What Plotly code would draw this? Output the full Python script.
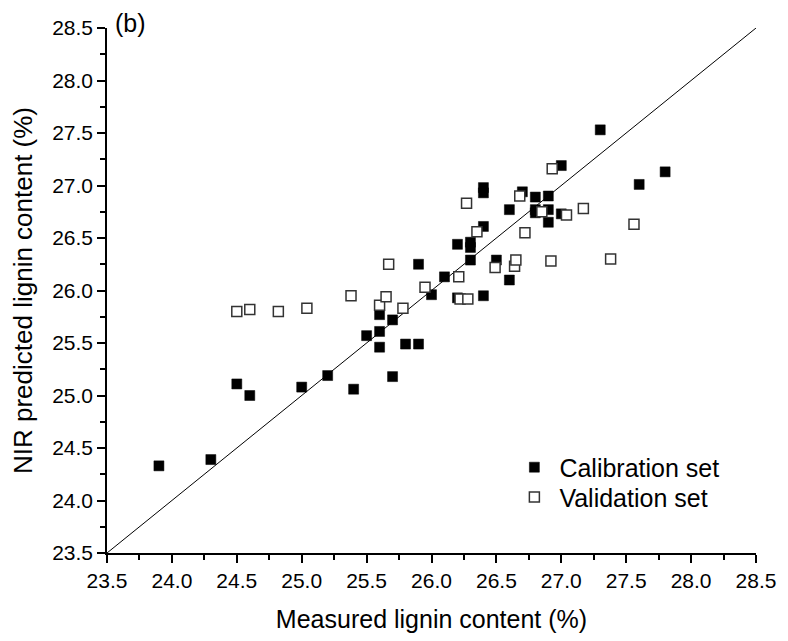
import plotly.graph_objects as go

# Calibration set: measured vs NIR-predicted lignin content (%)
cal_measured = [23.9, 24.3, 24.5, 24.6, 25.0, 25.2, 25.4, 25.5, 25.6, 25.6, 25.6,
                25.7, 25.7, 25.8, 25.9, 25.9, 26.0, 26.1, 26.2, 26.2, 26.3, 26.3,
                26.3, 26.4, 26.4, 26.4, 26.4, 26.5, 26.6, 26.6, 26.7, 26.8, 26.8,
                26.8, 26.9, 26.9, 26.9, 27.0, 27.0, 27.3, 27.6, 27.8]
cal_predicted = [24.33, 24.39, 25.11, 25.00, 25.08, 25.19, 25.06, 25.57, 25.77, 25.61, 25.46,
                 25.72, 25.18, 25.49, 25.49, 26.25, 25.96, 26.13, 26.44, 25.93, 26.46, 26.41,
                 26.29, 26.98, 26.93, 26.61, 25.95, 26.29, 26.77, 26.10, 26.94, 26.89, 26.77,
                 26.74, 26.90, 26.77, 26.65, 27.19, 26.73, 27.53, 27.01, 27.13]

# Validation set
val_measured = [24.50, 24.60, 24.82, 25.04, 25.38, 25.60, 25.65, 25.67, 25.78, 25.95,
                26.21, 26.22, 26.28, 26.27, 26.35, 26.49, 26.64, 26.65, 26.68, 26.72,
                26.85, 26.92, 26.93, 27.04, 27.17, 27.38, 27.56]
val_predicted = [25.80, 25.82, 25.80, 25.83, 25.95, 25.86, 25.94, 26.25, 25.83, 26.03,
                 26.13, 25.92, 25.92, 26.83, 26.56, 26.22, 26.23, 26.29, 26.90, 26.55,
                 26.75, 26.28, 27.16, 26.72, 26.78, 26.30, 26.63]

# 1:1 reference line
line_x = [23.5, 28.5]
line_y = [23.5, 28.5]

tick_vals = [23.5, 24.0, 24.5, 25.0, 25.5, 26.0, 26.5, 27.0, 27.5, 28.0, 28.5]
tick_text = ["23.5", "24.0", "24.5", "25.0", "25.5", "26.0", "26.5", "27.0", "27.5", "28.0", "28.5"]

FONT = "Liberation Sans, Arial, sans-serif"

fig = go.Figure()

fig.add_trace(go.Scatter(
    x=line_x, y=line_y, mode="lines",
    line=dict(color="black", width=1), showlegend=False, hoverinfo="skip"))

fig.add_trace(go.Scatter(
    x=cal_measured, y=cal_predicted, mode="markers", name="Calibration set",
    legend="legend",
    marker=dict(symbol="square", size=10, color="black",
                line=dict(color="black", width=0.5))))

fig.add_trace(go.Scatter(
    x=val_measured, y=val_predicted, mode="markers", name="Validation set",
    legend="legend2",
    marker=dict(symbol="square", size=10, color="white",
                line=dict(color="#333333", width=1.5))))

axis_common = dict(
    range=[23.5, 28.5], tickmode="array", tickvals=tick_vals, ticktext=tick_text,
    showgrid=False, zeroline=False, showline=True, linecolor="black", linewidth=1.5,
    ticks="outside", ticklen=8, tickwidth=1.5, tickcolor="black",
    tickfont=dict(family=FONT, size=21, color="black"),
    minor=dict(dtick=0.25, tick0=23.5, ticks="outside", ticklen=5, tickwidth=1.5,
               tickcolor="black", showgrid=False),
)

fig.update_xaxes(**axis_common,
                 title=dict(text="Measured lignin content (%)",
                            font=dict(family=FONT, size=25, color="black"), standoff=20))
fig.update_yaxes(**axis_common,
                 title=dict(text="NIR predicted lignin content (%)",
                            font=dict(family=FONT, size=26, color="black"), standoff=12))

fig.add_annotation(text="(b)", xref="paper", yref="paper", x=0.01, y=1.01,
                   xanchor="left", yanchor="middle", showarrow=False,
                   font=dict(family=FONT, size=25, color="black"))

legend_style = dict(xanchor="left", yanchor="middle",
                    font=dict(family=FONT, size=25, color="black"),
                    bgcolor="rgba(0,0,0,0)", itemsizing="trace", itemwidth=40)

fig.update_layout(
    width=788, height=641,
    margin=dict(l=107, r=26, t=28, b=85),
    plot_bgcolor="white", paper_bgcolor="white",
    legend=dict(x=0.62, y=0.163, **legend_style),
    legend2=dict(x=0.62, y=0.106, **legend_style),
)

fig.write_html("out.html")
